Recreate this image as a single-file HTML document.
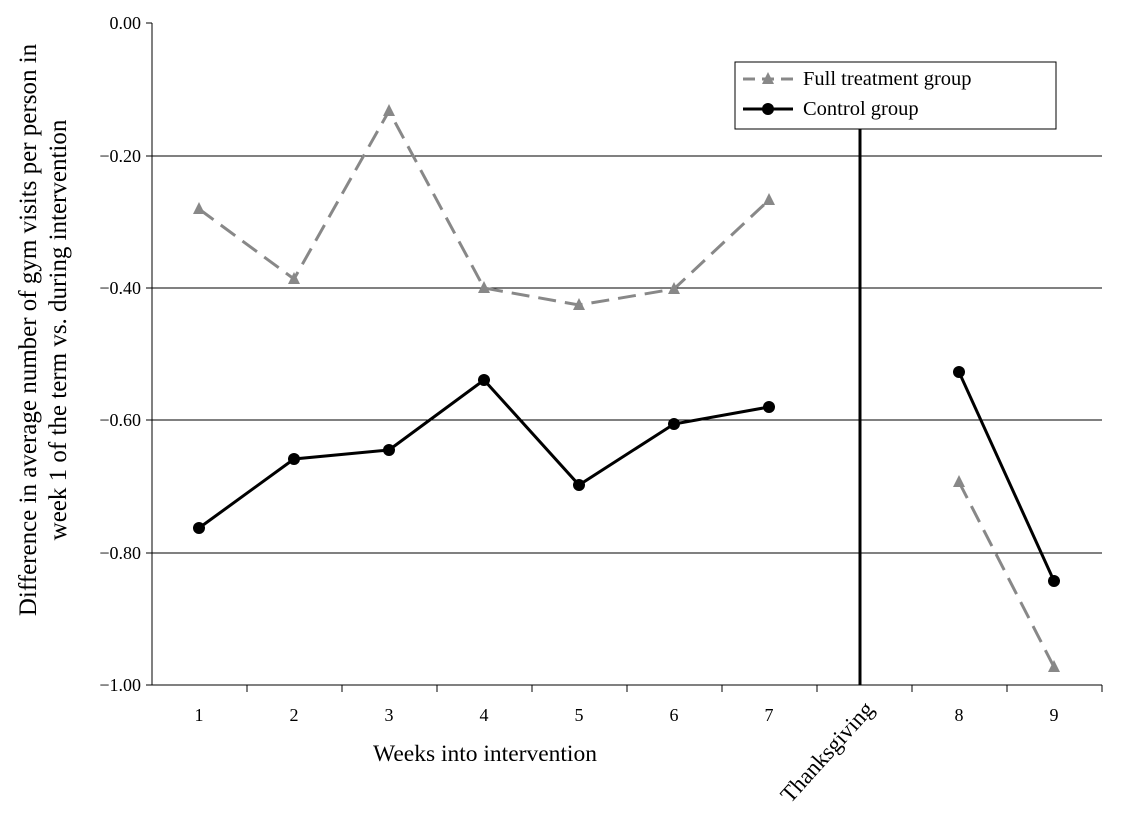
<!DOCTYPE html>
<html><head><meta charset="utf-8"><style>body{margin:0;background:#fff}svg{display:block}text{font-family:"Liberation Serif",serif;fill:#000}</style></head><body>
<svg width="1126" height="821" viewBox="0 0 1126 821">
<g stroke="#000" stroke-width="1">
<line x1="152" y1="156" x2="1102" y2="156"/>
<line x1="152" y1="288" x2="1102" y2="288"/>
<line x1="152" y1="420" x2="1102" y2="420"/>
<line x1="152" y1="553" x2="1102" y2="553"/>
<line x1="152" y1="23" x2="152" y2="685"/>
<line x1="152" y1="685" x2="1102" y2="685"/>
<line x1="146" y1="23" x2="152" y2="23"/><line x1="146" y1="156" x2="152" y2="156"/><line x1="146" y1="288" x2="152" y2="288"/><line x1="146" y1="420" x2="152" y2="420"/><line x1="146" y1="553" x2="152" y2="553"/><line x1="146" y1="685" x2="152" y2="685"/>
<line x1="247" y1="685" x2="247" y2="692"/><line x1="342" y1="685" x2="342" y2="692"/><line x1="437" y1="685" x2="437" y2="692"/><line x1="532" y1="685" x2="532" y2="692"/><line x1="627" y1="685" x2="627" y2="692"/><line x1="722" y1="685" x2="722" y2="692"/><line x1="817" y1="685" x2="817" y2="692"/><line x1="912" y1="685" x2="912" y2="692"/><line x1="1007" y1="685" x2="1007" y2="692"/><line x1="1102" y1="685" x2="1102" y2="692"/>
</g>
<line x1="860" y1="128" x2="860" y2="685" stroke="#000" stroke-width="3"/>
<g font-size="18" text-anchor="end">
<text x="141" y="29">0.00</text><text x="141" y="162">−0.20</text><text x="141" y="294">−0.40</text><text x="141" y="426">−0.60</text><text x="141" y="559">−0.80</text><text x="141" y="691">−1.00</text>
</g>
<g font-size="18" text-anchor="middle">
<text x="199" y="721">1</text><text x="294" y="721">2</text><text x="389" y="721">3</text><text x="484" y="721">4</text><text x="579" y="721">5</text><text x="674" y="721">6</text><text x="769" y="721">7</text><text x="959" y="721">8</text><text x="1054" y="721">9</text>
</g>
<text x="485" y="761" font-size="23.5" text-anchor="middle">Weeks into intervention</text>
<text transform="translate(875,710) rotate(-48)" font-size="23" text-anchor="end">Thanksgiving</text>
<text transform="translate(36,330) rotate(-90)" font-size="25" text-anchor="middle">Difference in average number of gym visits per person in</text>
<text transform="translate(66,330) rotate(-90)" font-size="25" text-anchor="middle">week 1 of the term vs. during intervention</text>
<g stroke="#888" stroke-width="3" stroke-dasharray="18,9" fill="none">
<polyline points="199,209 294,279 389,111 484,288 579,305 674,289 769,200"/>
<polyline points="959,482 1054,667"/>
</g>
<g fill="#888">
<polygon points="199,202 205,214 193,214"/><polygon points="294,272 300,284 288,284"/><polygon points="389,104 395,116 383,116"/><polygon points="484,281 490,293 478,293"/><polygon points="579,298 585,310 573,310"/><polygon points="674,282 680,294 668,294"/><polygon points="769,193 775,205 763,205"/><polygon points="959,475 965,487 953,487"/><polygon points="1054,660 1060,672 1048,672"/>
</g>
<g stroke="#000" stroke-width="3" fill="none">
<polyline points="199,528 294,459 389,450 484,380 579,485 674,424 769,407"/>
<polyline points="959,372 1054,581"/>
</g>
<g fill="#000">
<circle cx="199" cy="528" r="6"/><circle cx="294" cy="459" r="6"/><circle cx="389" cy="450" r="6"/><circle cx="484" cy="380" r="6"/><circle cx="579" cy="485" r="6"/><circle cx="674" cy="424" r="6"/><circle cx="769" cy="407" r="6"/><circle cx="959" cy="372" r="6"/><circle cx="1054" cy="581" r="6"/>
</g>
<rect x="735" y="62" width="321" height="67" fill="#fff" stroke="#000" stroke-width="1"/>
<line x1="743" y1="79" x2="793" y2="79" stroke="#888" stroke-width="3" stroke-dasharray="12,7"/>
<polygon points="768,72 774,84 762,84" fill="#888"/>
<text x="803" y="85" font-size="20.5">Full treatment group</text>
<line x1="743" y1="109" x2="793" y2="109" stroke="#000" stroke-width="3"/>
<circle cx="768" cy="109" r="6" fill="#000"/>
<text x="803" y="115" font-size="20.5">Control group</text>
</svg>
</body></html>
